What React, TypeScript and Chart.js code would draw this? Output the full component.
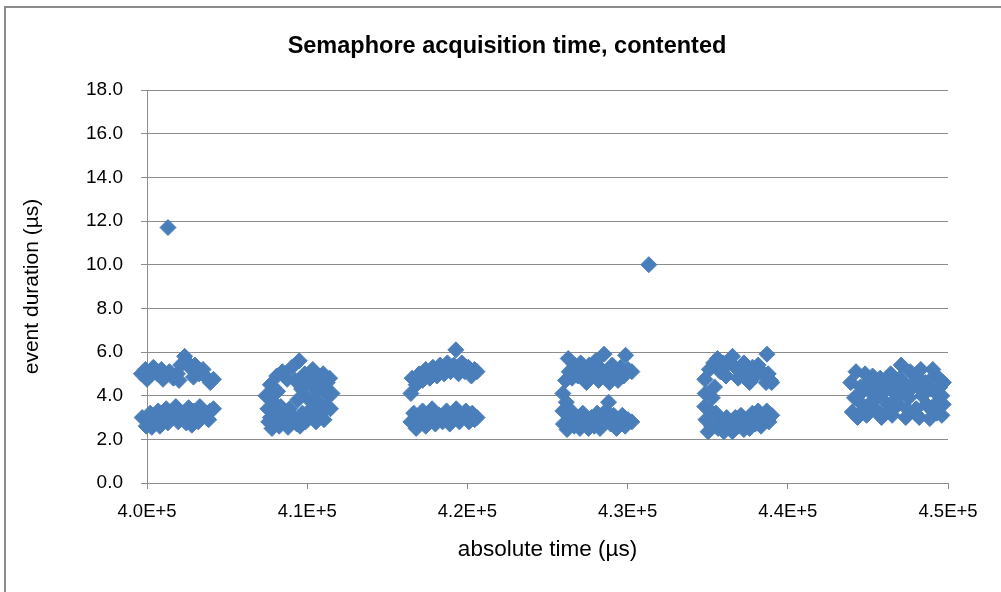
import React, { useEffect, useRef } from "react";
import { Chart, registerables } from "chart.js";

Chart.register(...registerables);

const chartTitle = "Semaphore acquisition time, contented";
const xTitle = "absolute time (µs)";
const yTitle = "event duration (µs)";

const xTickValues = [400000, 410000, 420000, 430000, 440000, 450000];
const yTickValues = [0, 2, 4, 6, 8, 10, 12, 14, 16, 18];

// [absolute time µs, duration µs]
const burst1: [number, number][] = [
  [399650, 5.0], [399900, 5.2], [400150, 4.9], [400400, 5.3], [400650, 5.0], [400900, 5.2],
  [401150, 4.9], [401400, 5.1], [401650, 4.8], [401900, 5.0], [402100, 5.4], [402350, 5.8],
  [402550, 5.5], [402800, 5.2], [403000, 5.4], [403250, 5.0], [403500, 5.2], [403750, 4.8],
  [403950, 4.6], [404150, 4.75], [400000, 4.75], [401000, 4.75], [402000, 4.7], [402900, 4.85],
  [399700, 3.0], [399950, 2.6], [400200, 3.2], [400450, 2.75], [400700, 3.3], [400950, 2.9],
  [401200, 3.4], [401450, 3.0], [401700, 3.3], [401950, 2.8], [402200, 3.2], [402450, 2.75],
  [402700, 3.1], [402950, 3.3], [403200, 2.8], [403450, 3.2], [403700, 3.0], [403950, 3.3],
  [404150, 3.4], [403850, 2.9], [401300, 2.75], [400600, 2.8],
  [400300, 2.55], [401800, 3.5], [402600, 3.45], [403300, 3.5], [400800, 2.6], [402800, 2.65],
];

const burst2: [number, number][] = [
  [407426, 4.0], [407550, 3.4], [407600, 2.8], [407700, 4.5], [407800, 2.5], [407900, 3.7],
  [408000, 3.1], [408100, 4.9], [408250, 2.6], [408350, 3.5], [408450, 5.1], [408550, 3.0],
  [408750, 4.75], [408800, 2.55], [408900, 3.4], [409050, 5.3], [409150, 3.0], [409250, 4.7],
  [409350, 2.7], [409400, 3.8], [409500, 5.6], [409650, 4.3], [409700, 3.2], [409850, 5.0],
  [409900, 2.8], [410000, 3.9], [410150, 4.6], [410250, 3.4], [410350, 5.2], [410450, 3.0],
  [410600, 4.2], [410700, 4.9], [410800, 3.6], [410900, 3.2], [411000, 5.0], [411100, 4.4],
  [411200, 3.5], [411300, 4.0], [411400, 4.8], [411450, 3.4], [411550, 4.1],
  [407700, 3.0], [408150, 4.2], [409550, 2.6], [409800, 4.6], [410100, 3.2], [410550, 2.8],
  [410850, 4.6], [411050, 2.9], [411250, 4.6], [410500, 3.8],
];

const burst3: [number, number][] = [
  [416474, 4.1], [416550, 4.8], [416800, 4.5], [417000, 5.0], [417200, 4.7], [417400, 5.2],
  [417650, 4.8], [417850, 5.3], [418100, 4.9], [418300, 5.4], [418550, 5.0], [418750, 5.5],
  [418950, 5.1], [419150, 5.4], [419280, 6.1], [419450, 5.0], [419650, 5.5], [419850, 5.1],
  [420050, 5.3], [420250, 4.9], [420450, 5.2], [420600, 5.1],
  [416474, 2.8], [416650, 3.2], [416800, 2.5], [417000, 2.9], [417200, 3.3], [417400, 2.6],
  [417600, 3.0], [417800, 3.4], [418000, 2.7], [418250, 3.1], [418450, 2.8], [418700, 3.3],
  [418900, 2.7], [419100, 3.0], [419300, 3.4], [419500, 2.8], [419700, 3.1], [419900, 3.3],
  [420100, 2.8], [420300, 3.2], [420450, 2.9], [420600, 3.0],
];

const burst4: [number, number][] = [
  [425958, 4.1], [425958, 3.3], [425996, 2.7], [426126, 4.7], [426175, 3.7], [426220, 2.45],
  [426294, 5.7], [426354, 5.1], [426399, 3.0],
  [426533, 4.8], [426712, 5.4], [426892, 4.9], [427071, 5.5], [427250, 5.0], [427429, 4.6],
  [427609, 5.4], [427788, 5.0], [428012, 5.6], [428191, 4.7], [428370, 5.2], [428530, 5.9],
  [428684, 5.0], [428863, 4.6], [429042, 5.4], [429221, 5.0], [429400, 4.7], [429580, 5.3],
  [429759, 4.9], [429872, 5.85], [430028, 5.2], [430264, 5.1],
  [426488, 3.3], [426668, 2.6], [426847, 3.0], [427026, 2.5], [427205, 3.2], [427384, 2.7],
  [427564, 2.5], [427743, 3.0], [427922, 2.6], [428101, 3.2], [428280, 2.5], [428460, 2.9],
  [428639, 3.3], [428810, 3.7], [428952, 2.7], [429131, 3.1], [429311, 2.5], [429490, 2.9],
  [429669, 3.1], [429848, 2.6], [430028, 2.9], [430264, 2.8],
];

const burst5: [number, number][] = [
  [434819, 4.75], [434847, 4.1], [434819, 3.5], [434891, 2.9], [435025, 2.35], [435098, 5.2],
  [435159, 3.3], [435249, 2.6], [435293, 3.9], [435376, 5.5], [435427, 4.4],
  [435606, 5.7], [435784, 5.1], [435963, 5.5], [436141, 4.9], [436320, 5.5], [436547, 5.8],
  [436722, 5.3], [436901, 4.8], [437079, 5.3], [437258, 5.5], [437436, 4.9], [437615, 4.6],
  [437794, 5.3], [437972, 4.9], [438151, 5.4], [438329, 5.1], [438508, 5.0], [438700, 5.9],
  [438642, 4.6], [438776, 5.0], [438910, 4.7], [438998, 4.6],
  [435516, 3.2], [435650, 2.5], [435829, 2.9], [436008, 2.35], [436186, 3.0], [436365, 2.6],
  [436543, 2.35], [436722, 3.0], [436901, 2.6], [437079, 3.1], [437258, 2.45], [437436, 2.9],
  [437615, 2.5], [437794, 3.2], [437972, 2.7], [438151, 3.3], [438329, 2.6], [438508, 3.0],
  [438687, 3.3], [438821, 2.8], [438998, 3.1],
];

const burst6: [number, number][] = [
  [443930, 4.6], [444024, 3.25], [444165, 3.9], [444259, 5.1], [444353, 3.0], [444541, 4.4],
  [444635, 3.6], [444823, 5.0], [444917, 3.1], [445105, 4.2], [445293, 4.9], [445387, 3.4],
  [445575, 3.9], [445763, 4.8], [445857, 3.0], [446045, 4.3], [446233, 3.6], [446421, 5.0],
  [446515, 3.1], [446703, 4.1], [446891, 3.6], [447079, 5.4], [447173, 4.6], [447361, 3.0],
  [447549, 3.9], [447643, 5.1], [447831, 4.4], [448019, 3.4], [448207, 3.0], [448301, 5.2],
  [448395, 4.0], [448583, 4.6], [448771, 3.5], [448865, 2.95], [449053, 5.2], [449147, 4.2],
  [449335, 3.7], [449429, 4.8], [449617, 3.1], [449711, 4.6], [449617, 4.0],
  [444400, 4.0], [444700, 3.3], [445000, 4.6], [445200, 3.7], [445450, 4.5], [445700, 3.2],
  [445900, 4.1], [446150, 4.7], [446350, 3.3], [446600, 4.5], [446800, 3.9], [447000, 4.8],
  [447250, 4.3], [447450, 3.4], [447700, 4.5], [447950, 3.2], [448150, 4.8], [448450, 4.2],
  [448650, 3.6], [448900, 4.3], [449150, 4.9], [449300, 3.2], [449500, 4.4], [449700, 3.6],
];

const outliers: [number, number][] = [
  [401310, 11.7],
  [431325, 10.0],
];

const MARKER = "rgb(74,126,187)";
const GRID = "#8c8c8c";
const FONT = "'Liberation Sans', Arial, sans-serif";

export default function App() {
  const canvasRef = useRef<HTMLCanvasElement | null>(null);

  useEffect(() => {
    if (!canvasRef.current) return;
    const points = [...burst1, ...burst2, ...burst3, ...burst4, ...burst5, ...burst6, ...outliers].map(
      ([x, y]) => ({ x, y })
    );
    const chart = new Chart(canvasRef.current, {
      type: "scatter",
      data: {
        datasets: [
          {
            label: "duration",
            data: points,
            pointStyle: "rectRot",
            pointRadius: 8,
            pointHoverRadius: 8,
            backgroundColor: MARKER,
            borderColor: MARKER,
            borderWidth: 1,
            clip: false as any,
          },
        ],
      },
      options: {
        animation: false,
        responsive: false,
        devicePixelRatio: 1,
        layout: { padding: 0 },
        plugins: {
          legend: { display: false },
          tooltip: { enabled: false },
          title: {
            display: true,
            text: chartTitle,
            color: "#000",
            font: { family: FONT, size: 23.5, weight: "bold", lineHeight: 1.2 },
            padding: { top: 32.5, bottom: 29.3 },
          },
        },
        scales: {
          x: {
            type: "linear",
            position: "bottom",
            min: xTickValues[0],
            max: xTickValues[xTickValues.length - 1],
            afterBuildTicks: (s: any) => {
              s.ticks = xTickValues.map((v) => ({ value: v }));
            },
            afterFit: (s: any) => {
              s.height = 109;
            },
            ticks: {
              color: "#000",
              font: { family: FONT, size: 18.5, lineHeight: 1.2 },
              padding: 12,
              maxRotation: 0,
              callback: (v: any) => Number(v).toExponential(1).toUpperCase(),
            },
            grid: { drawOnChartArea: false, drawTicks: true, tickLength: 6, color: GRID },
            border: { display: true, color: GRID },
            title: {
              display: true,
              text: xTitle,
              color: "#000",
              font: { family: FONT, size: 22.5, lineHeight: 1.2 },
              padding: { top: 0, bottom: 28.5 },
            },
          },
          y: {
            type: "linear",
            position: "left",
            min: yTickValues[0],
            max: yTickValues[yTickValues.length - 1],
            afterBuildTicks: (s: any) => {
              s.ticks = yTickValues.map((v) => ({ value: v }));
            },
            afterFit: (s: any) => {
              s.width = 147;
            },
            ticks: {
              color: "#000",
              font: { family: FONT, size: 19, lineHeight: 1.2 },
              padding: 18,
              callback: (v: any) => Number(v).toFixed(1),
            },
            grid: { drawOnChartArea: true, drawTicks: true, tickLength: 6, color: GRID, lineWidth: 1 },
            border: { display: true, color: GRID },
            title: {
              display: true,
              text: yTitle,
              color: "#000",
              font: { family: FONT, size: 21, lineHeight: 1.2 },
              padding: { top: 20, bottom: 0 },
            },
          },
          spacer: {
            type: "linear",
            position: "right",
            display: true,
            afterFit: (s: any) => {
              s.width = 66;
            },
            ticks: { display: false },
            grid: { display: false, drawTicks: false },
            border: { display: false },
          },
        },
      } as any,
    });
    return () => chart.destroy();
  }, []);

  return (
    <div
      style={{
        position: "absolute",
        left: 0,
        top: 0,
        width: 1001,
        height: 592,
        overflow: "hidden",
        background: "#fff",
      }}
    >
      <canvas
        ref={canvasRef}
        width={1014}
        height={592}
        style={{ display: "block", position: "absolute", left: 0, top: 0, width: 1014, height: 592 }}
      />
      <div
        style={{
          position: "absolute",
          left: 4,
          top: 6,
          width: 1100,
          height: 700,
          borderLeft: "2px solid #8c8c8c",
          borderTop: "2px solid #8c8c8c",
          pointerEvents: "none",
        }}
      />
    </div>
  );
}
